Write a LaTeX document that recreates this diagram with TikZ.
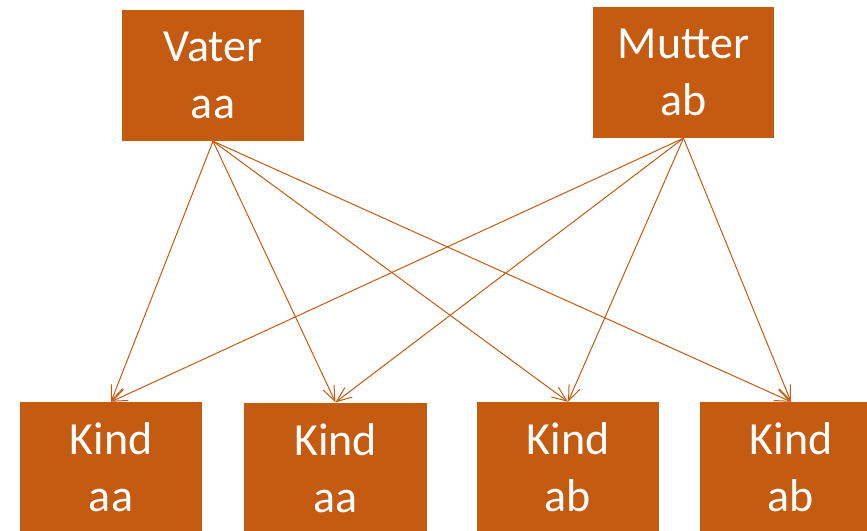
\documentclass[tikz,border=0pt]{standalone}
\usepackage{fontspec}
\setmainfont{Carlito}
\usetikzlibrary{arrows.meta}
\definecolor{boxorange}{HTML}{C55A11}
\tikzset{
  person/.style={rectangle, fill=boxorange, inner sep=0pt,
    minimum width=182pt, minimum height=131pt, align=center,
    text=white, font=\fontsize{46pt}{57pt}\selectfont},
  inherit/.style={draw=boxorange, line width=1pt,
    -{Straight Barb[length=15pt,width=12pt]}}
}
\begin{document}
\begin{tikzpicture}[x=1pt,y=-1pt]
  \useasboundingbox (0,0) rectangle (867,530);
  \begin{scope}
    \clip (0,0) rectangle (867,530);
    % parents
    \node[person] (vater) at (213,75.5) {Vater\\aa};
    \node[person, minimum width=181pt] (mutter) at (683.5,72.5) {Mutter\\ab};
    % children
    \node[person] (k1) at (111,467.5) {Kind\\aa};
    \node[person, minimum width=183pt] (k2) at (335.5,468) {Kind\\aa};
    \node[person] (k3) at (568,467.5) {Kind\\ab};
    \node[person] (k4) at (791,467.5) {Kind\\ab};
    % every child receives one allele from each parent
    \foreach \c in {k1,k2,k3,k4} {
      \draw[inherit] (vater.south) -- (\c.north);
      \draw[inherit] (mutter.south) -- (\c.north);
    }
  \end{scope}
\end{tikzpicture}
\end{document}
